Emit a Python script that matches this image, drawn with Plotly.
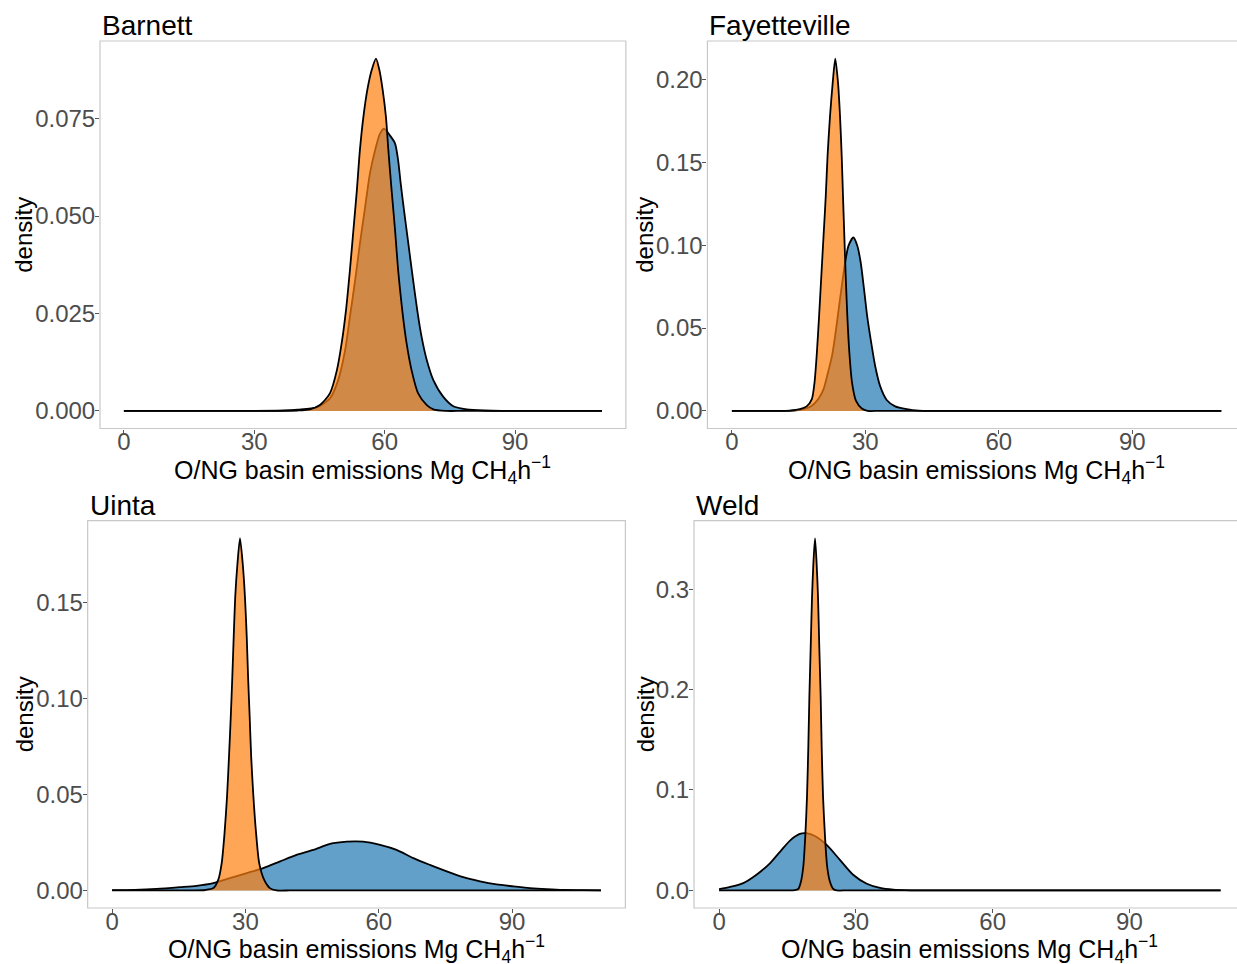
import plotly.graph_objects as go

W, H = 1237, 964

# ---------------- data ----------------
barnett_blue_x = [0, 25, 30, 37, 40, 44.4, 47.4, 49.3, 50.9, 52.0, 53.2, 54.3, 55.5, 56.6, 57.8, 58.9, 59.85,
                  61.2, 62.4, 63.1, 63.7, 64.45, 65.45, 66.45, 67.5, 68.5, 69.7, 71.2, 73.5, 75.8, 78.9, 83, 87,
                  92, 110]
barnett_blue_y = [0, 0, 0, 0.0001, 0.0003, 0.0009, 0.0032, 0.0079, 0.0156, 0.0241, 0.0335, 0.0429, 0.0523, 0.0609,
                  0.0669, 0.0711, 0.0724, 0.0707, 0.0686, 0.0643, 0.0583, 0.0515, 0.0429, 0.0344, 0.0258, 0.0190,
                  0.0130, 0.0079, 0.0036, 0.0012, 0.0004, 0.0001, 0, 0, 0]
barnett_orange_x = [0, 30, 36, 40, 42.8, 45.1, 47.4, 49.0, 50.1, 51.1, 52.0, 52.8, 53.6, 54.3, 55.1, 56.0, 57.0,
                    58.0, 58.8, 59.55, 60.3, 60.85, 61.6, 62.4, 63.1, 64.05, 65.05, 66.2, 67.7, 69.7, 71.2, 74, 78,
                    84, 110]
barnett_orange_y = [0, 0, 0, 0.0001, 0.0004, 0.0015, 0.0045, 0.0104, 0.0173, 0.0258, 0.0361, 0.0463, 0.0566,
                    0.0669, 0.0754, 0.0823, 0.0874, 0.0904, 0.0874, 0.0823, 0.0754, 0.0669, 0.0566, 0.0463, 0.0361,
                    0.0258, 0.0173, 0.0104, 0.0045, 0.0015, 0.0004, 0, 0, 0, 0]

fay_blue_x = [0, 6, 10, 14, 16.05, 17.9, 19.4, 20.6, 21.5, 22.5, 23.2, 23.9, 24.7, 25.45, 26.2, 27.3, 28.2, 28.95,
              29.7, 30.4, 31.3, 32.2, 33.3, 34.8, 36.7, 39.3, 42, 46, 52, 110]
fay_blue_y = [0, 0, 0, 0.0002, 0.001, 0.003, 0.0071, 0.0131, 0.0221, 0.0332, 0.0452, 0.0593, 0.0754, 0.0895,
              0.0995, 0.1046, 0.0995, 0.0895, 0.0734, 0.0573, 0.0413, 0.0271, 0.0151, 0.0066, 0.0027, 0.001,
              0.0001, 0, 0, 0]
fay_orange_x = [0, 6, 10, 13, 15.3, 16.8, 17.97, 18.57, 19.1, 19.6, 20.1, 20.6, 21.1, 21.5, 22.06, 22.66, 23.24,
                23.85, 24.3, 24.68, 24.97, 25.27, 25.58, 25.94, 26.4, 27.0, 27.9, 29.2, 30.5, 33, 38, 110]
fay_orange_y = [0, 0, 0, 0.0002, 0.001, 0.0027, 0.0071, 0.0171, 0.0352, 0.0573, 0.0814, 0.1055, 0.1297, 0.1538,
                0.178, 0.198, 0.2125, 0.198, 0.178, 0.1538, 0.1297, 0.1055, 0.0814, 0.0573, 0.0352, 0.0171, 0.006,
                0.0014, 0, 0, 0, 0]

uinta_blue_x = [0, 5, 10, 15.3, 19.0, 22.8, 26.5, 30.3, 34.0, 37.8, 41.5, 45.3, 49.0, 52.8, 56.5, 60.3, 64.0, 67.8,
                71.5, 75.3, 79.0, 82.8, 86.5, 90.3, 94.0, 97.8, 101.5, 106, 110]
uinta_blue_y = [0.0001, 0.0003, 0.0008, 0.0017, 0.0024, 0.0038, 0.0064, 0.009, 0.0116, 0.0151, 0.0185, 0.0211,
                0.0242, 0.0254, 0.0254, 0.0237, 0.0211, 0.0168, 0.0133, 0.0099, 0.0069, 0.0047, 0.0031, 0.0021,
                0.0012, 0.0006, 0.0002, 0.0001, 0]
uinta_orange_x = [0, 10, 15, 18, 21, 22.8, 23.9, 24.66, 25.3, 25.86, 26.3, 26.7, 27.05, 27.36, 27.7, 28.2, 28.78,
                  29.4, 29.9, 30.3, 30.6, 30.96, 31.3, 31.8, 32.4, 33.1, 34.2, 35.5, 37.0, 40, 45, 110]
uinta_orange_y = [0, 0, 0, 0, 0.0002, 0.0012, 0.0056, 0.0142, 0.0298, 0.0488, 0.0695, 0.0903, 0.1111, 0.1318,
                  0.1526, 0.170, 0.1834, 0.170, 0.1526, 0.1318, 0.1111, 0.0903, 0.0695, 0.0488, 0.0298, 0.0142,
                  0.0056, 0.0012, 0, 0, 0, 0]

weld_blue_x = [0, 2.4, 5.3, 8.2, 11.2, 13.4, 15.55, 17.7, 19.2, 21.0, 23.6, 26.5, 29.4, 32.4, 35.3, 38.2, 42, 46,
               52, 110]
weld_blue_y = [0.0012, 0.0034, 0.0073, 0.0156, 0.0272, 0.0387, 0.0496, 0.0562, 0.0569, 0.0542, 0.0453, 0.0304,
               0.0156, 0.0066, 0.0024, 0.0007, 0.0001, 0, 0, 0]
weld_orange_x = [0, 8, 12, 15, 16.6, 17.37, 17.96, 18.47, 18.9, 19.28, 19.57, 19.8, 20.09, 20.38, 20.67, 21.04,
                 21.4, 21.7, 21.98, 22.28, 22.5, 22.8, 23.23, 23.7, 24.3, 25.05, 25.8, 28, 32, 110]
weld_orange_y = [0, 0, 0, 0, 0.0002, 0.0014, 0.0089, 0.0238, 0.0536, 0.0933, 0.1429, 0.1925, 0.242, 0.2917,
                 0.3248, 0.3506, 0.3248, 0.2917, 0.242, 0.1925, 0.1429, 0.0933, 0.0536, 0.0238, 0.0089, 0.0014, 0,
                 0, 0, 0]

panel_titles = ["Barnett", "Fayetteville", "Uinta", "Weld"]
x_ticks = [0, 30, 60, 90]
y_ticks = [[0, 0.025, 0.05, 0.075], [0, 0.05, 0.10, 0.15, 0.20], [0, 0.05, 0.10, 0.15], [0, 0.1, 0.2, 0.3]]
y_fmt = [".3f", ".2f", ".2f", ".1f"]
x_title = "O/NG basin emissions Mg CH<sub>4</sub>h<sup>\u22121</sup>"
y_title = "density"

series = [
    (barnett_blue_x, barnett_blue_y, barnett_orange_x, barnett_orange_y),
    (fay_blue_x, fay_blue_y, fay_orange_x, fay_orange_y),
    (uinta_blue_x, uinta_blue_y, uinta_orange_x, uinta_orange_y),
    (weld_blue_x, weld_blue_y, weld_orange_x, weld_orange_y),
]

# ---------------- layout geometry (pixels) ----------------
geom = [
    dict(x0=123.9, k=4.346, top=41.0, bot=428.5, ylab=24),
    dict(x0=731.9, k=4.449, top=41.0, bot=428.5, ylab=645),
    dict(x0=112.1, k=4.444, top=520.7, bot=908.0, ylab=24),
    dict(x0=719.1, k=4.559, top=520.7, bot=908.0, ylab=645),
]

BLUE = "rgba(31,119,180,0.7)"
ORANGE = "rgba(255,127,14,0.7)"
FONT = "Liberation Sans, Arial, Helvetica, sans-serif"

fig = go.Figure()
layout = dict(width=W, height=H, margin=dict(l=0, r=0, t=0, b=0), paper_bgcolor="white",
              plot_bgcolor="white", showlegend=False, font=dict(family=FONT))
annotations = []
shapes = []

for i in range(4):
    g = geom[i]
    bx, by, ox, oy = series[i]
    xa = "x" if i == 0 else f"x{i+1}"
    ya = "y" if i == 0 else f"y{i+1}"
    left_px = g["x0"] - 5.5 * g["k"]
    right_px = g["x0"] + 115.5 * g["k"]
    right_clip = min(right_px, W)
    xr = [(left_px - g["x0"]) / g["k"], (right_clip - g["x0"]) / g["k"]]
    m = max(max(by), max(oy))
    yr = [-0.05 * m, 1.05 * m]
    dom_x = [left_px / W, right_clip / W]
    dom_y = [(H - g["bot"]) / H, (H - g["top"]) / H]

    for xs, ys, fc in [(bx, by, BLUE), (ox, oy, ORANGE)]:
        fig.add_trace(go.Scatter(x=xs, y=ys, mode="lines", fill="tozeroy", fillcolor=fc,
                                 line=dict(color="black", width=1.8, shape="spline", smoothing=0.7),
                                 xaxis=xa, yaxis=ya, hoverinfo="skip"))

    axkey_x = "xaxis" if i == 0 else f"xaxis{i+1}"
    axkey_y = "yaxis" if i == 0 else f"yaxis{i+1}"
    layout[axkey_x] = dict(domain=dom_x, range=xr, anchor=ya, tickvals=x_ticks, ticks="outside", ticklen=4,
                           tickwidth=1, tickcolor="#555555", showgrid=False, zeroline=False, showline=False,
                           ticklabelstandoff=-12,
                           tickfont=dict(size=24, color="#4d4d4d", family=FONT))
    layout[axkey_y] = dict(domain=dom_y, range=yr, anchor=xa, tickvals=y_ticks[i], tickformat=y_fmt[i],
                           ticks="outside", ticklen=4, tickwidth=1, tickcolor="#555555", showgrid=False,
                           zeroline=False, showline=False, ticklabelstandoff=-5,
                           tickfont=dict(size=24, color="#4d4d4d", family=FONT))
    # panel border
    shapes.append(dict(type="rect", xref="paper", yref="paper", x0=left_px / W, x1=right_px / W,
                       y0=dom_y[0], y1=dom_y[1], line=dict(color="#c8c8c8", width=1.2), layer="above"))
    # panel title
    annotations.append(dict(text=panel_titles[i], xref="paper", yref="paper", x=left_px / W, y=dom_y[1],
                            xanchor="left", yanchor="bottom", yshift=-2, showarrow=False,
                            font=dict(size=28, color="black", family=FONT)))
    # y title
    annotations.append(dict(text=y_title, xref="paper", yref="paper", x=g["ylab"] / W,
                            y=(dom_y[0] + dom_y[1]) / 2, textangle=-90, xanchor="center", yanchor="middle",
                            showarrow=False, font=dict(size=24, color="black", family=FONT)))
    # x title
    annotations.append(dict(text=x_title, xref="paper", yref="paper", x=(left_px + right_px) / 2 / W,
                            y=(H - (g["bot"] + 41)) / H, xanchor="center", yanchor="middle",
                            showarrow=False, font=dict(size=25, color="black", family=FONT)))

layout["annotations"] = annotations
layout["shapes"] = shapes
fig.update_layout(**layout)
fig.write_html("out.html", config={"displayModeBar": False})
